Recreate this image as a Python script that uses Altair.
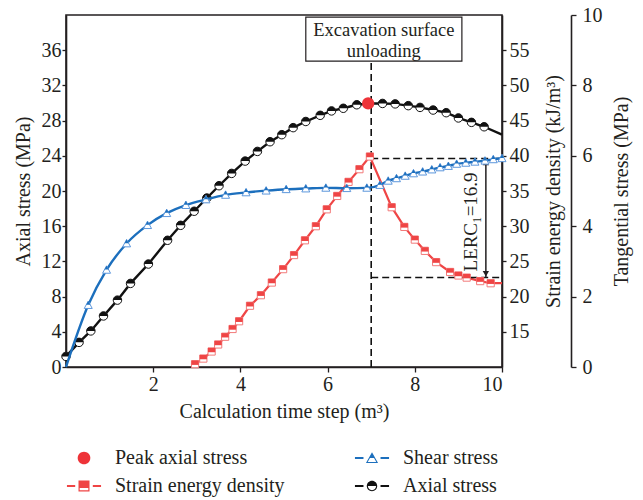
import altair as alt
import pandas as pd

# ---------------- data ----------------
# Axial stress (MPa) against calculation time step
axial_x = [0, 0.30, 0.57, 0.86, 1.18, 1.48, 1.89, 2.33, 2.63, 2.94, 3.23, 3.51, 3.80, 4.11,
           4.39, 4.68, 4.95, 5.21, 5.50, 5.83, 6.09, 6.36, 6.67, 6.93, 7.26, 7.55, 7.85,
           8.12, 8.42, 8.72, 9.00, 9.30, 9.59, 10.0]
axial_y = [1.2, 2.8, 4.1, 5.8, 7.6, 9.5, 11.7, 14.4, 16.1, 17.7, 19.2, 20.6, 22.0, 23.4,
           24.5, 25.6, 26.4, 27.2, 27.9, 28.6, 29.1, 29.4, 29.8, 29.95, 29.95, 29.9, 29.7,
           29.5, 29.2, 28.9, 28.3, 27.8, 27.3, 26.4]

# Shear stress (MPa), read on the tangential-stress axis
shear_x = [0, 0.51, 0.93, 1.39, 1.87, 2.31, 2.75, 3.21, 3.66, 4.13, 4.59, 5.05, 5.50, 5.96,
           6.44, 6.90, 7.20, 7.39, 7.58, 7.78, 7.97, 8.18, 8.39, 8.58, 8.77, 8.96, 9.17,
           9.38, 9.61, 9.80, 10.0]
shear_y = [0, 1.76, 2.76, 3.51, 4.03, 4.37, 4.60, 4.76, 4.89, 4.96, 5.01, 5.05, 5.07, 5.09,
           5.08, 5.09, 5.17, 5.29, 5.36, 5.43, 5.50, 5.55, 5.61, 5.67, 5.71, 5.77, 5.80,
           5.83, 5.86, 5.90, 5.93]

# Strain energy density (kJ/m3)
strain_x = [2.96, 3.15, 3.34, 3.49, 3.65, 3.82, 3.97, 4.22, 4.47, 4.72, 4.98, 5.23, 5.48,
            5.73, 5.98, 6.22, 6.48, 6.73, 6.97, 7.47, 7.76, 8.00, 8.23, 8.49, 8.81, 9.00,
            9.19, 9.50, 9.74, 10.0]
strain_y = [10.4, 11.2, 12.2, 13.2, 14.3, 15.4, 16.5, 18.7, 20.2, 22.0, 23.9, 25.9, 28.0,
            30.0, 32.4, 34.3, 36.3, 38.1, 39.9, 32.7, 29.9, 28.1, 26.5, 24.9, 23.5, 23.0,
            22.7, 22.2, 21.9, 21.9]

# Peak axial stress
peak_x = [6.93]
peak_y = [29.95]

# Excavation-surface unloading step and the energy drop (LERC1)
unload_x = 7.0
lerc_value = 16.9
lerc_top = 39.6
lerc_bottom = round(lerc_top - lerc_value, 2)
lerc_arrow_x = 9.63

x_ticks = [2, 4, 6, 8, 10]
axial_ticks = [0, 4, 8, 12, 16, 20, 24, 28, 32, 36]
strain_ticks = [15, 20, 25, 30, 35, 40, 45, 50, 55]
tang_ticks = [0, 2, 4, 6, 8, 10]

# legend entries, listed column by column (two columns)
legend_labels = ["Peak axial stress", "Strain energy density", "Shear stress", "Axial stress"]

# ---------------- styling ----------------
FONT = "Liberation Serif"
INK = "#231f20"
BLACK = "#111111"
BLUE = "#1c6fbd"
BLUE_LIGHT = "#5d97dc"
RED = "#ef4545"
RED_LIGHT = "#f27a7a"
PEAK_RED = "#ee3338"


def circle(r, cw=True):
    s = 1 if cw else 0
    return f"M{-r},0 A{r},{r} 0 1,{s} {r},0 A{r},{r} 0 1,{s} {-r},0 Z"


def top_half_disc(r):
    return f"M{-r},0 A{r},{r} 0 0,1 {r},0 Z"


def dashes(inner, outer, t=0.17):
    return (f"M{-outer},{-t} L{-inner},{-t} L{-inner},{t} L{-outer},{t} Z "
            f"M{inner},{-t} L{outer},{-t} L{outer},{t} L{inner},{t} Z")


# legend symbols: outline ring + filled upper part + line dashes, all drawn as fill
leg_peak = circle(1.15)
leg_shear = ("M0,-1.05 L1.1,0.9 L-1.1,0.9 Z "
             "M0,-0.65 L-0.78,0.72 L0.78,0.72 Z "
             "M0,-0.65 L0.38,0.02 L-0.38,0.02 Z " + dashes(1.55, 3.1))
leg_strain = ("M-1,-1 L1,-1 L1,1 L-1,1 Z "
              "M-0.78,-0.78 L-0.78,0.78 L0.78,0.78 L0.78,-0.78 Z "
              "M-0.78,-0.78 L0.78,-0.78 L0.78,0.35 L-0.78,0.35 Z " + dashes(1.6, 3.1))
leg_axial = (circle(0.95) + " " + circle(0.75, cw=False) + " " + top_half_disc(0.75) + " "
             + dashes(1.55, 3.1))

# plot markers
full_circle = circle(1)
half_circle = top_half_disc(1)
full_tri = "M0,-1 L1,0.85 L-1,0.85 Z"
half_tri = "M0,-1 L0.5,-0.08 L-0.5,-0.08 Z"
full_sq = "M-1,-1 L1,-1 L1,1 L-1,1 Z"
top_sq = "M-1,-1 L1,-1 L1,0.2 L-1,0.2 Z"

# ---------------- frames ----------------
axial_df = pd.DataFrame({"t": axial_x, "v": axial_y})
axial_mk = axial_df.iloc[:-1]
shear_df = pd.DataFrame({"t": shear_x, "v": shear_y})
shear_mk = shear_df.iloc[1:]
strain_df = pd.DataFrame({"t": strain_x, "v": strain_y})
strain_mk = strain_df.iloc[:-1]
peak_df = pd.DataFrame({"t": peak_x, "v": peak_y})

x_scale = alt.Scale(domain=[0, 10], nice=False, zero=False)
ax_scale = alt.Scale(domain=[0, 40], nice=False, zero=False)
st_scale = alt.Scale(domain=[10, 60], nice=False, zero=False)
tg_scale = alt.Scale(domain=[0, 10], nice=False, zero=False)

X_AXIS = alt.Axis(values=x_ticks, tickCount=20, format="d",
                  title="Calculation time step (m³)",
                  tickSize=5, labelPadding=2, titlePadding=7)
xq = alt.X("t:Q", scale=x_scale)

# ---------- axial stress group ----------
axial_line = alt.Chart(axial_df).mark_line(color=BLACK, strokeWidth=2.4).encode(
    x=alt.X("t:Q", scale=x_scale, axis=X_AXIS),
    y=alt.Y("v:Q", scale=ax_scale,
            axis=alt.Axis(orient="left", values=axial_ticks, tickCount=20, format="d",
                          title="Axial stress (MPa)",
                          tickSize=4, labelPadding=1, titlePadding=8)),
)
vline = alt.Chart(pd.DataFrame({"t": [unload_x], "y0": [0], "y1": [40]})).mark_rule(
    color=BLACK, strokeWidth=1.6, strokeDash=[7, 4]
).encode(x=xq, y=alt.Y("y0:Q", scale=ax_scale), y2="y1:Q")

axial_pts_bg = alt.Chart(axial_mk).mark_point(
    shape=full_circle, size=72, filled=True, fill="white", stroke=BLACK, strokeWidth=1,
    opacity=1
).encode(x=xq, y=alt.Y("v:Q", scale=ax_scale))
axial_pts_top = alt.Chart(axial_mk).mark_point(
    shape=half_circle, size=72, filled=True, fill=BLACK, strokeWidth=0, opacity=1
).encode(x=xq, y=alt.Y("v:Q", scale=ax_scale))

peak_pt = alt.Chart(peak_df).mark_point(
    shape="circle", size=150, filled=True, fill=PEAK_RED, strokeWidth=0, opacity=1
).encode(x=xq, y=alt.Y("v:Q", scale=ax_scale))

box = alt.Chart(pd.DataFrame({"x0": [5.5], "x1": [9.08], "y0": [34.75], "y1": [39.75]})).mark_rect(
    fill="white", stroke=INK, strokeWidth=1.2
).encode(x=alt.X("x0:Q", scale=x_scale), x2="x1:Q",
         y=alt.Y("y0:Q", scale=ax_scale), y2="y1:Q")
box_text = alt.Chart(pd.DataFrame({
    "x": [7.29, 7.29], "y": [38.35, 35.95], "s": ["Excavation surface", "unloading"]
})).mark_text(font=FONT, fontSize=18.5, color=INK).encode(
    x=alt.X("x:Q", scale=x_scale), y=alt.Y("y:Q", scale=ax_scale), text="s:N")

legend_df = pd.DataFrame({"series": legend_labels, "t": [1, 1, 1, 1], "v": [1, 1, 1, 1]})
LEG = alt.Legend(title=None, orient="none", legendX=8, legendY=433, columns=2,
                 columnPadding=69, rowPadding=8, symbolSize=121, symbolStrokeWidth=0,
                 symbolOpacity=1, labelFont=FONT, labelFontSize=20, labelColor=INK,
                 labelOffset=21, labelLimit=400, padding=0)
legend_layer = alt.Chart(legend_df).mark_point(filled=True, opacity=0, size=121).encode(
    x=xq, y=alt.Y("v:Q", scale=ax_scale),
    color=alt.Color("series:N", sort=legend_labels,
                    scale=alt.Scale(domain=legend_labels,
                                    range=[PEAK_RED, RED, BLUE, BLACK]), legend=LEG),
    shape=alt.Shape("series:N", sort=legend_labels,
                    scale=alt.Scale(domain=legend_labels,
                                    range=[leg_peak, leg_strain, leg_shear, leg_axial]),
                    legend=LEG),
)

axial_group = alt.layer(axial_line, vline, axial_pts_bg, axial_pts_top, peak_pt, box,
                        box_text, legend_layer)

# ---------- strain energy density group ----------
strain_line = alt.Chart(strain_df).mark_line(color=RED, strokeWidth=2.2).encode(
    x=xq,
    y=alt.Y("v:Q", scale=st_scale,
            axis=alt.Axis(orient="right", values=strain_ticks, tickCount=20, format="d",
                          title="Strain energy density (kJ/m³)", titleAngle=270,
                          tickSize=4, labelPadding=3, titlePadding=34)),
)
strain_bg = alt.Chart(strain_mk).mark_point(
    shape=full_sq, size=52, filled=True, fill="white", stroke=RED_LIGHT, strokeWidth=1,
    opacity=1
).encode(x=xq, y=alt.Y("v:Q", scale=st_scale))
strain_top = alt.Chart(strain_mk).mark_point(
    shape=top_sq, size=52, filled=True, fill=RED, strokeWidth=0, opacity=1
).encode(x=xq, y=alt.Y("v:Q", scale=st_scale))

hlines = alt.Chart(pd.DataFrame({"x0": [unload_x, unload_x], "x1": [10, 10],
                                 "v": [lerc_top, lerc_bottom]})).mark_rule(
    color=BLACK, strokeWidth=1.5, strokeDash=[7, 4]
).encode(x=alt.X("x0:Q", scale=x_scale), x2="x1:Q", y=alt.Y("v:Q", scale=st_scale))

arrow = alt.Chart(pd.DataFrame({"t": [lerc_arrow_x], "y0": [lerc_top], "y1": [lerc_bottom]})).mark_rule(
    color=INK, strokeWidth=1.5
).encode(x=xq, y=alt.Y("y0:Q", scale=st_scale), y2="y1:Q")
arrow_heads = alt.Chart(pd.DataFrame({
    "t": [lerc_arrow_x, lerc_arrow_x], "v": [lerc_top - 0.55, lerc_bottom + 0.55],
    "shape": ["triangle-up", "triangle-down"]
})).mark_point(filled=True, size=40, color=INK, opacity=1).encode(
    x=xq, y=alt.Y("v:Q", scale=st_scale),
    shape=alt.Shape("shape:N", scale=None, legend=None))
lerc_text = alt.Chart(pd.DataFrame({"t": [9.28], "v": [30.6], "s": [f"LERC₁={lerc_value}"]})).mark_text(
    font=FONT, fontSize=19, color=INK, angle=270
).encode(x=xq, y=alt.Y("v:Q", scale=st_scale), text="s:N")

strain_group = alt.layer(strain_line, hlines, strain_bg, strain_top, arrow, arrow_heads,
                         lerc_text)

# ---------- shear stress group (tangential-stress axis) ----------
shear_line = alt.Chart(shear_df).mark_line(color=BLUE, strokeWidth=2.4,
                                           interpolate="monotone").encode(
    x=xq,
    y=alt.Y("v:Q", scale=tg_scale,
            axis=alt.Axis(orient="right", offset=69, values=tang_ticks, tickCount=20,
                          format="d", title="Tangential stress (MPa)", titleAngle=270,
                          tickSize=5, labelPadding=6, titlePadding=29)),
)
shear_bg = alt.Chart(shear_mk).mark_point(
    shape=full_tri, size=64, filled=True, fill="white", stroke=BLUE_LIGHT, strokeWidth=1,
    opacity=1
).encode(x=xq, y=alt.Y("v:Q", scale=tg_scale))
shear_top = alt.Chart(shear_mk).mark_point(
    shape=half_tri, size=64, filled=True, fill=BLUE, strokeWidth=0, opacity=1
).encode(x=xq, y=alt.Y("v:Q", scale=tg_scale))

shear_group = alt.layer(shear_line, shear_bg, shear_top)

chart = alt.layer(axial_group, strain_group, shear_group).resolve_scale(
    y="independent"
).properties(
    width=436, height=352,
    autosize=alt.AutoSizeParams(type="none"),
    padding={"left": 66, "top": 15, "right": 141, "bottom": 133},
).configure_view(
    stroke=INK, strokeWidth=1.6
).configure_axis(
    grid=False, labelFont=FONT, titleFont=FONT, labelFontSize=20, titleFontSize=20,
    labelColor=INK, titleColor=INK, titleFontWeight="normal", domainColor=INK,
    domainWidth=1.6, tickColor=INK, tickWidth=1.3, labelOverlap=False
)

chart.save("out.html", embed_options={"renderer": "svg", "actions": False})
